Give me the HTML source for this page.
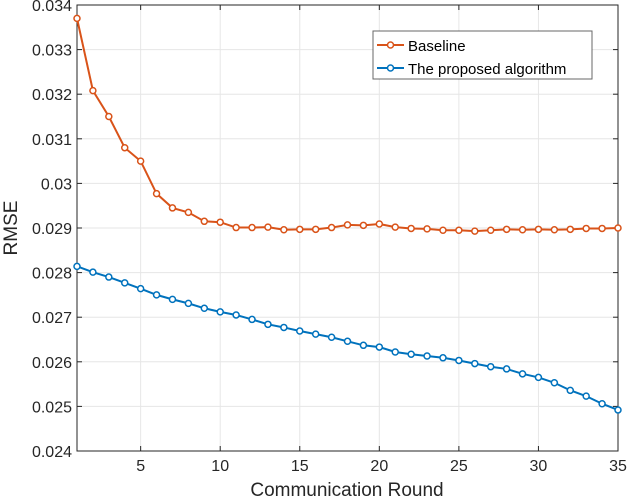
<!DOCTYPE html>
<html><head><meta charset="utf-8"><style>
body{margin:0;background:#fff;}
svg{display:block;font-family:"Liberation Sans",Arial,sans-serif;}
</style></head><body>
<svg id="chart" width="628" height="500" xmlns="http://www.w3.org/2000/svg">
<g id="grid"></g>
<g id="axes"></g>
<g id="series"></g>
<text x="347" y="496" font-size="19" text-anchor="middle" fill="#262626">Communication Round</text>
<text x="0" y="0" font-size="19" text-anchor="middle" fill="#262626" transform="translate(17,228) rotate(-90)">RMSE</text>
<g>
<rect x="373" y="31" width="219" height="48" fill="#fff" stroke="#262626" stroke-opacity="0.7" stroke-width="1"/>
<g>
<line x1="377" y1="45" x2="404" y2="45" stroke="#D95319" stroke-width="2"/>
<circle cx="390.5" cy="45" r="3" fill="#fff" stroke="#D95319" stroke-width="1.5"/>
<text x="408" y="51" font-size="15" fill="#000">Baseline</text>
</g>
<g>
<line x1="377" y1="68" x2="404" y2="68" stroke="#0072BD" stroke-width="2"/>
<circle cx="390.5" cy="68" r="3" fill="#fff" stroke="#0072BD" stroke-width="1.5"/>
<text x="408" y="74" font-size="15" fill="#000">The proposed algorithm</text>
</g>
</g>
</svg>
<script>
const rounds=[];for(let i=1;i<=35;i++)rounds.push(i);
const baseline=[0.0337,0.03208,0.0315,0.0308,0.0305,0.02977,0.02945,0.02935,0.02915,0.02913,0.02901,0.02901,0.02902,0.02896,0.02897,0.02897,0.02901,0.02907,0.02906,0.02909,0.02902,0.02899,0.02898,0.02895,0.02895,0.02893,0.02895,0.02897,0.02896,0.02897,0.02896,0.02897,0.02899,0.02899,0.029];
const proposed=[0.02814,0.02801,0.0279,0.02777,0.02764,0.0275,0.0274,0.02731,0.0272,0.02712,0.02705,0.02695,0.02684,0.02677,0.02669,0.02662,0.02655,0.02646,0.02637,0.02633,0.02622,0.02617,0.02613,0.02609,0.02603,0.02596,0.02589,0.02584,0.02573,0.02565,0.02553,0.02536,0.02523,0.02506,0.02492];
const xTicks=[5,10,15,20,25,30,35];
const yTicks=[0.024,0.025,0.026,0.027,0.028,0.029,0.03,0.031,0.032,0.033,0.034];
const yTickLabels=["0.024","0.025","0.026","0.027","0.028","0.029","0.03","0.031","0.032","0.033","0.034"];
const L=77,R=618,T=5,B=451;
const xs=v=>L+(v-1)/(35-1)*(R-L);
const ys=v=>B-(v-0.024)/(0.034-0.024)*(B-T);
const NS="http://www.w3.org/2000/svg";
function mk(tag,attrs,parent){const e=document.createElementNS(NS,tag);for(const k in attrs)e.setAttribute(k,attrs[k]);parent.appendChild(e);return e;}
const grid=document.getElementById('grid'),axes=document.getElementById('axes'),series=document.getElementById('series');
mk('rect',{x:L,y:T,width:R-L,height:B-T,fill:'#fff'},grid);
xTicks.forEach(t=>{const l=mk('line',{x1:xs(t),x2:xs(t),y1:T,y2:B,stroke:'#e6e6e6','stroke-width':1},grid);

});
yTicks.forEach(t=>{const l=mk('line',{x1:L,x2:R,y1:ys(t),y2:ys(t),stroke:'#e6e6e6','stroke-width':1},grid);

});
mk('rect',{x:L,y:T,width:R-L,height:B-T,fill:'none',stroke:'#262626','stroke-width':1},axes);
xTicks.forEach(t=>{mk('line',{x1:xs(t),x2:xs(t),y1:B,y2:B-5,stroke:'#262626'},axes);mk('line',{x1:xs(t),x2:xs(t),y1:T,y2:T+5,stroke:'#262626'},axes);
const tx=mk('text',{x:xs(t),y:B+20,'font-size':16,'text-anchor':'middle',fill:'#262626'},axes);tx.textContent=t;

});
yTicks.forEach((t,i)=>{mk('line',{x1:L,x2:L+5,y1:ys(t),y2:ys(t),stroke:'#262626'},axes);mk('line',{x1:R,x2:R-5,y1:ys(t),y2:ys(t),stroke:'#262626'},axes);
const tx=mk('text',{x:L-5,y:ys(t)+6,'font-size':16,'text-anchor':'end',fill:'#262626'},axes);tx.textContent=yTickLabels[i];

});
function draw(data,color,name){
const g=mk('g',{},series);


const pl=mk('polyline',{points:data.map((v,i)=>xs(rounds[i])+','+ys(v)).join(' '),fill:'none',stroke:color,'stroke-width':2},g);


data.forEach((v,i)=>{const c=mk('circle',{cx:xs(rounds[i]),cy:ys(v),r:3,fill:'#fff',stroke:color,'stroke-width':1.5},g);

});
}
draw(baseline,'#D95319','baseline');
draw(proposed,'#0072BD','proposed');
</script>
</body></html>
